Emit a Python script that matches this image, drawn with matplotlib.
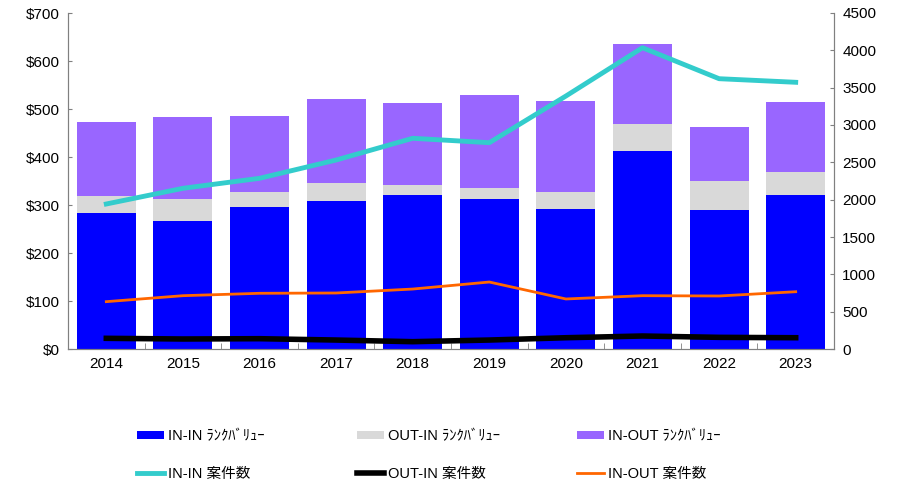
import matplotlib
matplotlib.use('Agg')
import matplotlib.pyplot as plt
import numpy as np

plt.rcParams['font.family'] = ['Liberation Sans', 'Noto Sans CJK JP', 'DejaVu Sans']

# data
years = ['2014', '2015', '2016', '2017', '2018', '2019', '2020', '2021', '2022', '2023']
in_in_val = [283, 267, 296, 308, 321, 312, 292, 412, 290, 320]
out_in_val = [36, 45, 31, 37, 21, 24, 36, 57, 61, 49]
in_out_val = [154, 172, 158, 176, 170, 194, 189, 167, 112, 145]
in_in_cnt = [1942, 2152, 2286, 2531, 2822, 2763, 3388, 4035, 3620, 3572]
out_in_cnt = [143, 134, 138, 120, 98, 120, 151, 174, 156, 151]
in_out_cnt = [634, 714, 746, 750, 803, 897, 670, 714, 710, 767]

labels_bar = ['IN-IN ﾗﾝｸﾊﾞﾘｭｰ', 'OUT-IN ﾗﾝｸﾊﾞﾘｭｰ', 'IN-OUT ﾗﾝｸﾊﾞﾘｭｰ']
labels_line = ['IN-IN 案件数', 'OUT-IN 案件数', 'IN-OUT 案件数']

#setting up plot
fig = plt.figure(figsize=(8.99, 4.86), dpi=100)
ax = fig.add_axes([68/899, 1-349/486, (834-68)/899, 336/486])
ax2 = ax.twinx()

x = np.arange(len(years))
a = np.array(in_in_val)
b = np.array(out_in_val)
c = np.array(in_out_val)
w = 0.77
b1 = ax.bar(x, a, w, color='#0000FF', label=labels_bar[0])
b2 = ax.bar(x, b, w, bottom=a, color='#D9D9D9', label=labels_bar[1])
b3 = ax.bar(x, c, w, bottom=a+b, color='#9966FF', label=labels_bar[2])

l1, = ax2.plot(x, in_in_cnt, color='#33CCCC', lw=3.5, label=labels_line[0])
l2, = ax2.plot(x, out_in_cnt, color='black', lw=4, label=labels_line[1])
l3, = ax2.plot(x, in_out_cnt, color='#FF6600', lw=2, label=labels_line[2])

ax.set_xlim(-0.5, len(years)-0.5)
ax.set_ylim(0, 700)
ax2.set_ylim(0, 4500)
ax.set_yticks(np.arange(0, 701, 100))
ax.set_yticklabels(['$%d' % v for v in range(0, 701, 100)])
ax2.set_yticks(np.arange(0, 4501, 500))
ax.set_xticks(x)
ax.set_xticklabels(years)
ax.set_xticks(np.arange(0.5, len(years)-1, 1), minor=True)

for s in ['top']:
    ax.spines[s].set_visible(False)
    ax2.spines[s].set_visible(False)
for s in ['left', 'bottom', 'right']:
    ax.spines[s].set_color('#808080')
    ax2.spines[s].set_color('#808080')
ax.tick_params(axis='x', which='major', length=0, labelsize=11, pad=6)
ax.tick_params(axis='x', which='minor', length=4, direction='in', color='#808080')
ax.tick_params(axis='y', length=3, direction='in', color='#808080', labelsize=11, pad=6)
ax2.tick_params(axis='y', length=3, direction='in', color='#808080', labelsize=11, pad=6)

#legend, one block per column
cols = [(b1, l1), (b2, l2), (b3, l3)]
xpos = [137/899, 357/899, 577/899]
for (hb, hl), xp in zip(cols, xpos):
    fig.legend([hb, hl], [hb.get_label(), hl.get_label()], loc='center left',
               bbox_to_anchor=(xp, 1-455/486), frameon=False, fontsize=10.5,
               borderpad=0, borderaxespad=0, labelspacing=1.65,
               handlelength=1.85, handleheight=0.5, handletextpad=0.25)

plt.savefig('out.png', dpi=100)
